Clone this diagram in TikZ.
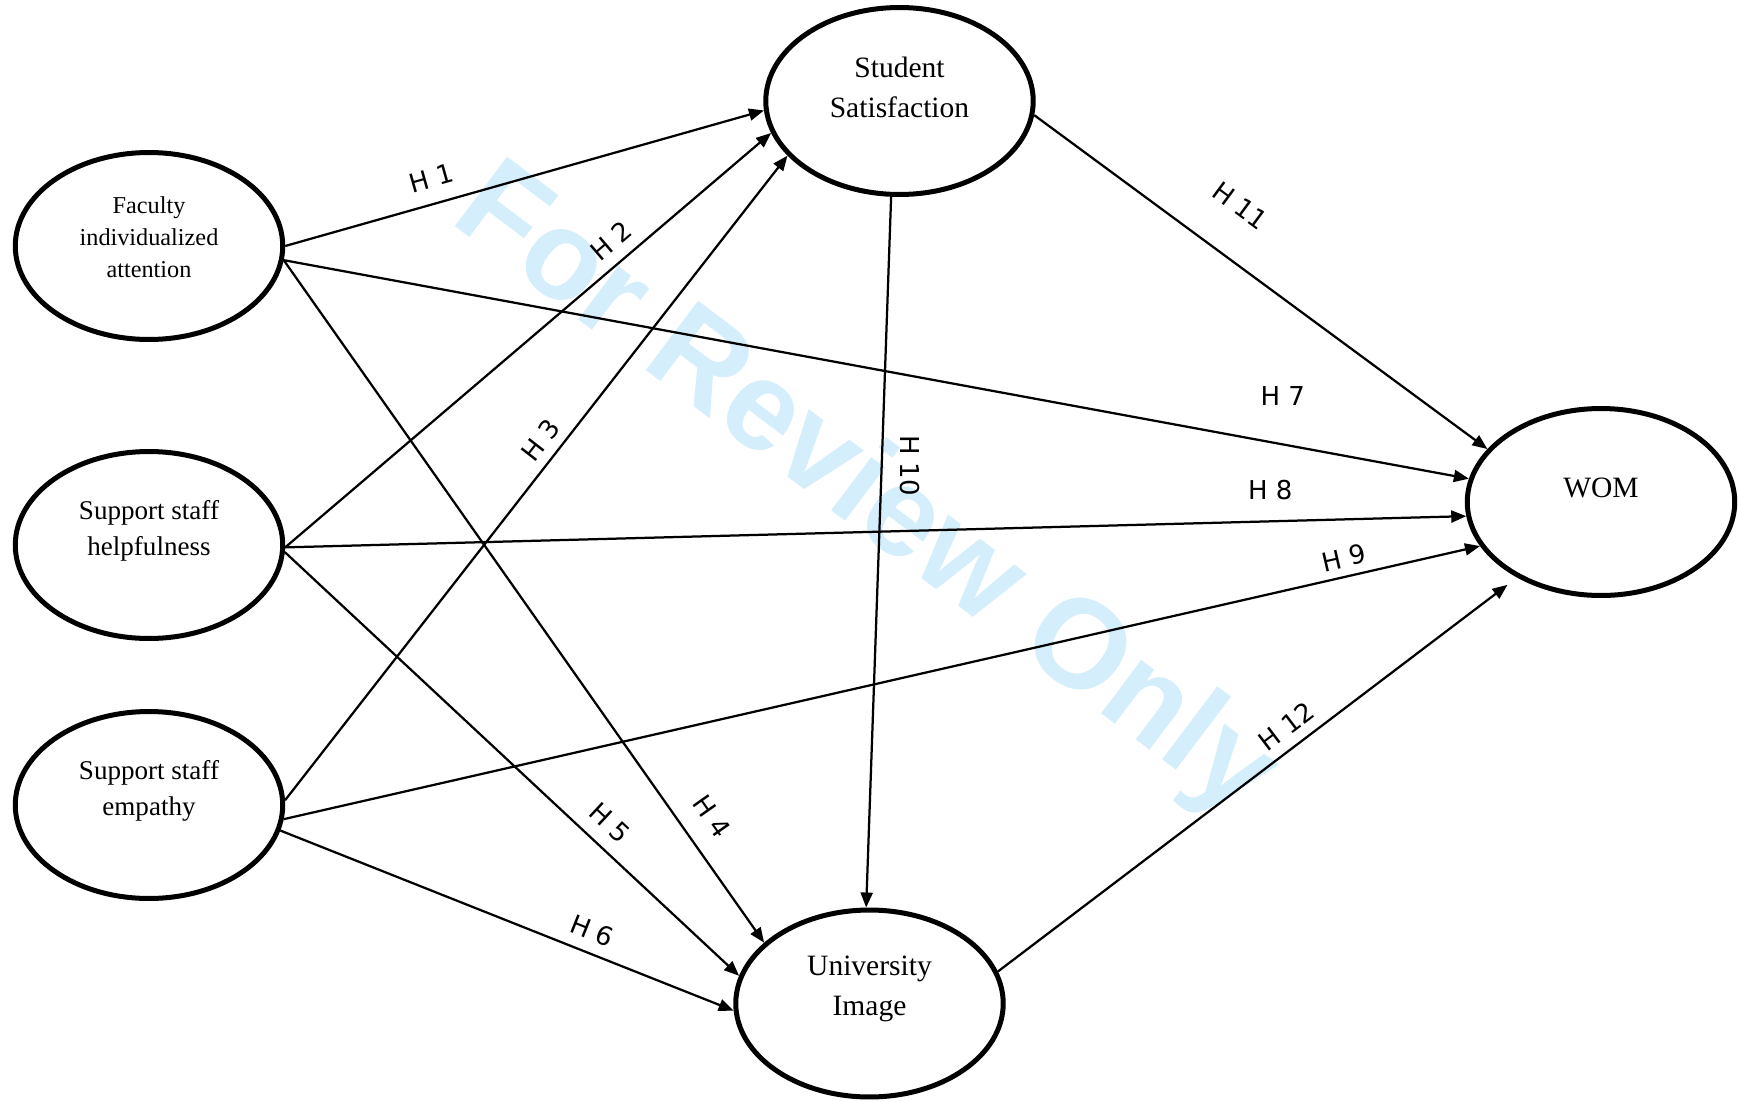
\documentclass[tikz,border=0pt]{standalone}
\usepackage{fontspec}
\setmainfont{Liberation Serif}
\newfontfamily\hypfont{DejaVu Sans}
\newfontfamily\markfont{Liberation Sans}
\usetikzlibrary{arrows.meta,shapes.geometric}
\definecolor{modelink}{HTML}{000000}
\definecolor{reviewblue}{HTML}{D4EEFB}
\tikzset{
  construct/.style={draw=modelink, ellipse, line width=0.1cm, minimum width=5.35cm, minimum height=3.74cm, inner sep=0pt},
  bigname/.style={align=center, font=\fontsize{16.8}{22.7}\selectfont},
  staffname/.style={align=center, font=\fontsize{15.4}{20.2}\selectfont},
  facname/.style={align=center, font=\fontsize{13.8}{18.2}\selectfont},
  hyp/.style={draw=modelink, line width=0.045cm, -{Triangle[length=0.3cm,width=0.24cm]}},
  hlab/.style={font=\hypfont\fontsize{14.8}{16}\selectfont, inner sep=1pt}
}

\begin{document}
\begin{tikzpicture}[x=0.02cm, y=-0.02cm]

  \useasboundingbox (0,0) rectangle (1738,1102);

  \node[reviewblue, rotate=-37, font=\markfont\bfseries\fontsize{72}{80}\selectfont] (wmark) at (864,494) {For Review Only};

  \node[construct] (fac) at (149,246) {};
  \node[construct] (hlp) at (149,545) {};
  \node[construct] (emp) at (149,805) {};
  \node[construct] (sat) at (899.5,101) {};
  \node[construct] (img) at (869.5,1003.5) {};
  \node[construct] (wom) at (1601,502) {};

  \node[facname] (factext) at (149,237) {Faculty\\individualized\\attention};
  \node[staffname] (hlptext) at (149,531) {Support staff\\helpfulness};
  \node[staffname] (emptext) at (149,791) {Support staff\\empathy};
  \node[bigname] (sattext) at (899.5,87) {Student\\Satisfaction};
  \node[bigname] (imgtext) at (869.5,989) {University\\Image};
  \node[bigname] (womtext) at (1601,488) {WOM};

  \draw[hyp] (fac.east) -- node[hlab, pos=.32, sloped, above=0.26cm] (h1) {H 1} (sat.184);
  \draw[hyp] (hlp.-1) -- node[hlab, pos=.70, sloped, above=0.19cm] (h2) {H 2} (sat.194);
  \draw[hyp] (emp.2) -- node[hlab, pos=.54, sloped, above=0.15cm] (h3) {H 3} (sat.206);
  \draw[hyp] (fac.-6) -- node[hlab, pos=.84, sloped, above=0.36cm] (h4) {H 4} (img.150);
  \draw[hyp] (hlp.-3) -- node[hlab, pos=.68, sloped, above=0.23cm] (h5) {H 5} (img.168);
  \draw[hyp] (emp.-11) -- node[hlab, pos=.67, sloped, above=0.19cm] (h6) {H 6} (img.183);
  \draw[hyp] (fac.-6) -- node[hlab, pos=.843, above=0.72cm] (h7) {H 7} (wom.170);
  \draw[hyp] (hlp.-1) -- node[hlab, pos=.834, above=0.38cm] (h8) {H 8} (wom.186);
  \draw[hyp] (emp.-6) -- node[hlab, pos=.89, sloped, above=0.12cm] (h9) {H 9} (wom.200);
  \draw[hyp] (sat.265) -- node[hlab, pos=.378, xshift=0.56cm, rotate=-90] (h10) {H 10} (img.92);
  \draw[hyp] (sat.354) -- node[hlab, pos=.39, sloped, above=0.74cm] (h11) {H 11} (wom.155);
  \draw[hyp, shorten >=0.24cm] (img.14) -- node[hlab, pos=.58, sloped, above=0.17cm] (h12) {H 12} (wom.222);

\end{tikzpicture}
\end{document}
